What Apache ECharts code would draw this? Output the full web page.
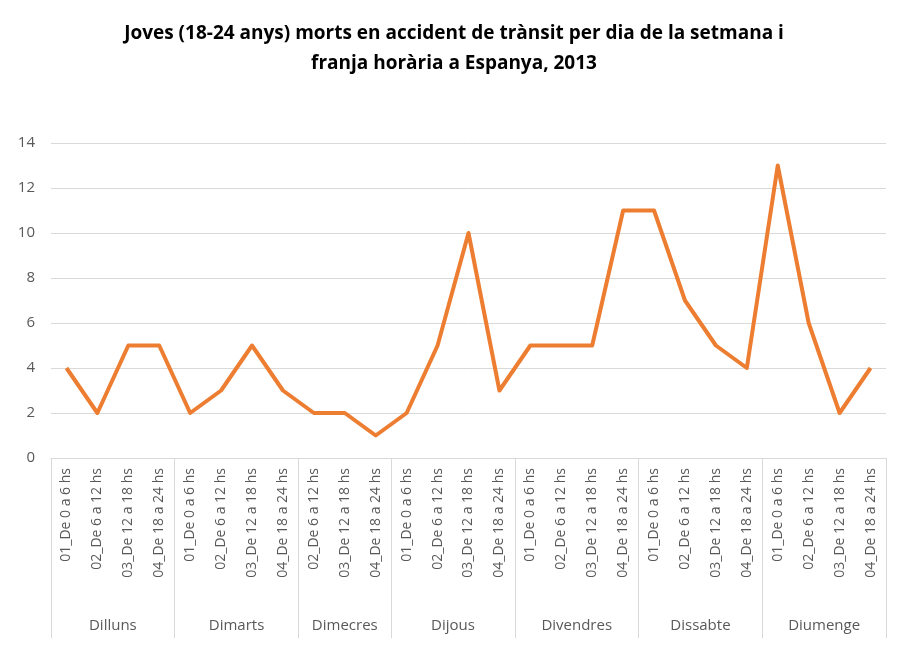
<!DOCTYPE html>
<html>
<head>
<meta charset="utf-8">
<script src="https://cdn.jsdelivr.net/npm/echarts@6/dist/echarts.min.js"></script>
<style>html,body{margin:0;padding:0;background:#fff}#chart{width:908px;height:648px}</style>
</head>
<body>
<div id="chart"></div>
<script>
var franges = [
    '01_De 0 a 6 hs', '02_De 6 a 12 hs', '03_De 12 a 18 hs', '04_De 18 a 24 hs',
    '01_De 0 a 6 hs', '02_De 6 a 12 hs', '03_De 12 a 18 hs', '04_De 18 a 24 hs',
    '02_De 6 a 12 hs', '03_De 12 a 18 hs', '04_De 18 a 24 hs',
    '01_De 0 a 6 hs', '02_De 6 a 12 hs', '03_De 12 a 18 hs', '04_De 18 a 24 hs',
    '01_De 0 a 6 hs', '02_De 6 a 12 hs', '03_De 12 a 18 hs', '04_De 18 a 24 hs',
    '01_De 0 a 6 hs', '02_De 6 a 12 hs', '03_De 12 a 18 hs', '04_De 18 a 24 hs',
    '01_De 0 a 6 hs', '02_De 6 a 12 hs', '03_De 12 a 18 hs', '04_De 18 a 24 hs'
];
var dies = ['Dilluns', 'Dimarts', 'Dimecres', 'Dijous', 'Divendres', 'Dissabte', 'Diumenge'];
var franjesPerDia = [4, 4, 3, 4, 4, 4, 4];
var morts = [4, 2, 5, 5, 2, 3, 5, 3, 2, 2, 1, 2, 5, 10, 3, 5, 5, 5, 11, 11, 7, 5, 4, 13, 6, 2, 4];

// eix auxiliar en mitges posicions per als noms dels dies
var half = [], limits = {}, centres = {};
var acc = 0;
limits[0] = true;
franjesPerDia.forEach(function(n, i) {
    centres[acc + n] = dies[i];
    acc += 2 * n;
    limits[acc] = true;
});
for (var k = 0; k <= acc; k++) half.push(centres[k] || '');

var chart = echarts.init(document.getElementById('chart'));
chart.setOption({
    title: {
        text: 'Joves (18-24 anys) morts en accident de trànsit per dia de la setmana i\nfranja horària a Espanya, 2013',
        left: 'center', top: 14,
        textStyle: { fontFamily: 'Open Sans', fontSize: 19, fontWeight: 'bold', color: '#000', lineHeight: 30 }
    },
    grid: { left: 51, right: 22, top: 143, bottom: 190 },
    xAxis: [{
        type: 'category',
        data: franges,
        axisLine: { lineStyle: { color: '#d9d9d9' } },
        axisTick: { show: false },
        axisLabel: { rotate: 90, interval: 0, color: '#595959', fontSize: 14, fontFamily: 'Open Sans', margin: 10 }
    }, {
        type: 'category',
        position: 'bottom',
        boundaryGap: false,
        data: half,
        axisLine: { show: false },
        axisTick: {
            length: 180, lineStyle: { color: '#d9d9d9' },
            interval: function(i) { return !!limits[i]; }
        },
        axisLabel: {
            interval: function(i) { return half[i] !== ''; },
            color: '#595959', fontSize: 15, fontFamily: 'Open Sans', margin: 160
        }
    }],
    yAxis: {
        type: 'value', min: 0, max: 14, interval: 2,
        axisLine: { show: false }, axisTick: { show: false },
        splitLine: { lineStyle: { color: '#d9d9d9' } },
        axisLabel: { color: '#595959', fontSize: 15, fontFamily: 'Open Sans', margin: 16 }
    },
    series: [{
        type: 'line',
        data: morts,
        symbol: 'none',
        lineStyle: { color: '#ed7d31', width: 4, join: 'round' },
        animation: false
    }]
});
</script>
</body>
</html>
